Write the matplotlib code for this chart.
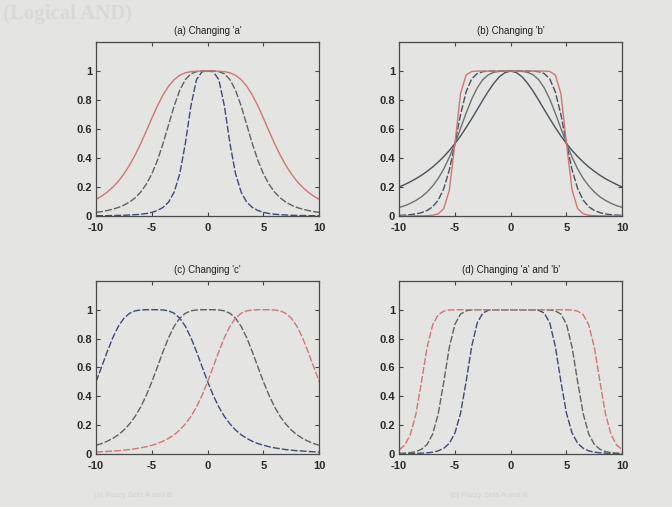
import numpy
from matplotlib import pyplot

# x positions shared by every curve
x = numpy.arange(-10, 10.01, 0.5)

# (a) changing 'a' (narrow, middle, wide)
a_narrow = [.002, .002, .002, .003, .004, .005, .007, .009, .012, .017, .025, .038, .059, .096, .165, .291, .5, .760, .941, .996, 1,
            .996, .941, .760, .5, .291, .165, .096, .059, .038, .025, .017, .012, .009, .007, .005, .004, .003, .002, .002, .002]
a_middle = [.025, .030, .038, .047, .059, .075, .096, .125, .165, .219, .291, .384, .5, .630, .760, .868, .941, .981, .996, 1.0, 1,
            1.0, .996, .981, .941, .868, .760, .630, .5, .384, .291, .219, .165, .125, .096, .075, .059, .047, .038, .030, .025]
a_wide = [.115, .137, .165, .199, .240, .291, .351, .421, .5, .586, .675, .760, .835, .896, .941, .971, .988, .996, .999, 1.0, 1,
          1.0, .999, .996, .988, .971, .941, .896, .835, .760, .675, .586, .5, .421, .351, .291, .240, .199, .165, .137, .115]

# (b) changing 'b'
b_1 = [.2, .217, .236, .257, .281, .308, .338, .372, .410, .452, .5, .552, .610, .671, .735, .8, .862, .917, .962, .990, 1,
       .990, .962, .917, .862, .8, .735, .671, .610, .552, .5, .452, .410, .372, .338, .308, .281, .257, .236, .217, .2]
b_2 = [.059, .071, .087, .107, .132, .165, .207, .259, .325, .406, .5, .604, .709, .806, .885, .941, .975, .992, .998, 1.0, 1,
       1.0, .998, .992, .975, .941, .885, .806, .709, .604, .5, .406, .325, .259, .207, .165, .132, .107, .087, .071, .059]
b_4 = [.004, .006, .009, .014, .023, .038, .063, .109, .189, .318, .5, .699, .856, .946, .983, .996, .999, 1.0, 1.0, 1, 1,
       1, 1.0, 1.0, .999, .996, .983, .946, .856, .699, .5, .318, .189, .109, .063, .038, .023, .014, .009, .006, .004]
b_8 = [0, 0, 0, 0, .001, .002, .005, .015, .051, .179, .5, .844, .973, .997, 1.0, 1.0, 1.0, 1, 1, 1, 1,
       1, 1, 1, 1.0, 1.0, 1.0, .997, .973, .844, .5, .179, .051, .015, .005, .002, .001, 0, 0, 0, 0]

# (c) changing 'c' (left, centre, right)
c_left = [.5, .604, .709, .806, .885, .941, .975, .992, .998, 1.0, 1,
          1.0, .998, .992, .975, .941, .885, .806, .709, .604, .5, .406, .325, .259, .207, .165, .132, .107, .087, .071,
          .059, .049, .041, .035, .029, .025, .021, .019, .016, .014, .012]
c_mid = b_2
c_right = [.012, .014, .016, .019, .021, .025, .029, .035, .041, .049, .059, .071, .087, .107, .132, .165, .207, .259, .325, .406,
           .5, .604, .709, .806, .885, .941, .975, .992, .998, 1.0, 1,
           1.0, .998, .992, .975, .941, .885, .806, .709, .604, .5]

# (d) changing 'a' and 'b'
d_narrow = [.001, .001, .0015, .0024, .0039, .0065, .011, .020, .038, .073, .144, .280, .5, .744, .909, .977, .996, 1.0, 1, 1, 1,
            1, 1, 1, 1.0, .996, .977, .909, .744, .5, .280, .144, .073, .038, .020, .011, .0065, .0039, .0024, .0015, .001]
d_middle = [.0022, .004, .0077, .015, .031, .064, .136, .277, .5, .740, .899, .969, .992, .998, 1.0, 1.0, 1, 1, 1, 1, 1,
            1, 1, 1, 1, 1.0, 1.0, .998, .992, .969, .899, .740, .5, .277, .136, .064, .031, .015, .0077, .004, .0022]
d_wide = [.027, .060, .132, .275, .5, .737, .894, .965, .990, .998, .999, 1.0, 1.0, 1, 1, 1, 1, 1, 1, 1, 1,
          1, 1, 1, 1, 1, 1, 1, 1.0, 1.0, .999, .998, .990, .965, .894, .737, .5, .275, .132, .060, .027]

titles = ["(a) Changing 'a'", "(b) Changing 'b'", "(c) Changing 'c'", "(d) Changing 'a' and 'b'"]

bg = '#e4e4e2'
red = '#cf7676'
dark = '#4a505c'
blue = '#404a78'
green = '#5c655e'
dash = (0, (5, 1.5))

pyplot.rcParams['font.family'] = ['Liberation Sans', 'DejaVu Sans']
pyplot.rcParams['axes.unicode_minus'] = False

fig = pyplot.figure(figsize=(6.72, 5.07), dpi=100, facecolor=bg)

# faint show-through text of the printed page, kept clear of the plots
fig.text(0.005, 0.972, '(Logical AND)', fontsize=15, va='center', color='#d8d8d6',
         family='Liberation Serif', fontweight='bold', zorder=-5)
fig.text(0.14, 0.022, '(a) Fuzzy Sets A and B', fontsize=5.5, va='center', color='#d2d2d0', zorder=-5)
fig.text(0.67, 0.022, '(b) Fuzzy Sets A and B', fontsize=5.5, va='center', color='#d2d2d0', zorder=-5)

positions = [[0.143, 0.574, 0.332, 0.343], [0.594, 0.574, 0.332, 0.343],
             [0.143, 0.105, 0.332, 0.341], [0.594, 0.105, 0.332, 0.341]]
axes = [fig.add_axes(p) for p in positions]

ax = axes[0]
ax.plot(x, a_narrow, color=blue, lw=1.0, ls=dash)
ax.plot(x, a_middle, color=green, lw=1.0, ls=dash)
ax.plot(x, a_wide, color=red, lw=1.0)

ax = axes[1]
ax.plot(x, b_1, color=dark, lw=1.0)
ax.plot(x, b_2, color='#6a736d', lw=1.0)
ax.plot(x, b_4, color=dark, lw=1.0, ls=dash)
ax.plot(x, b_8, color=red, lw=1.0)

ax = axes[2]
ax.plot(x, c_left, color=blue, lw=1.0, ls=dash)
ax.plot(x, c_mid, color=green, lw=1.0, ls=dash)
ax.plot(x, c_right, color=red, lw=1.0, ls=dash)

ax = axes[3]
ax.plot(x, d_narrow, color=blue, lw=1.0, ls=dash)
ax.plot(x, d_middle, color=green, lw=1.0, ls=dash)
ax.plot(x, d_wide, color=red, lw=1.0, ls=dash)

for ax, title in zip(axes, titles):
    ax.set_facecolor('none')
    ax.set_xlim(-10, 10)
    ax.set_ylim(0, 1.2)
    ax.set_xticks([-10, -5, 0, 5, 10])
    ax.set_yticks([0, 0.2, 0.4, 0.6, 0.8, 1])
    ax.set_yticklabels(['0', '0.2', '0.4', '0.6', '0.8', '1'])
    ax.tick_params(direction='in', length=3, width=0.8, top=True, right=True,
                   labelsize=8, colors='#444444', labelcolor='#2a2a2a')
    ax.tick_params(axis='x', pad=5)
    ax.tick_params(axis='y', pad=3)
    for lab in ax.get_xticklabels() + ax.get_yticklabels():
        lab.set_fontweight('bold')
    for s in ax.spines.values():
        s.set_color('#4a4a4a')
        s.set_linewidth(0.9)
    ax.set_title(title, fontsize=7, color='#222222', pad=6)

fig.savefig('out.png', dpi=100, facecolor=bg)
